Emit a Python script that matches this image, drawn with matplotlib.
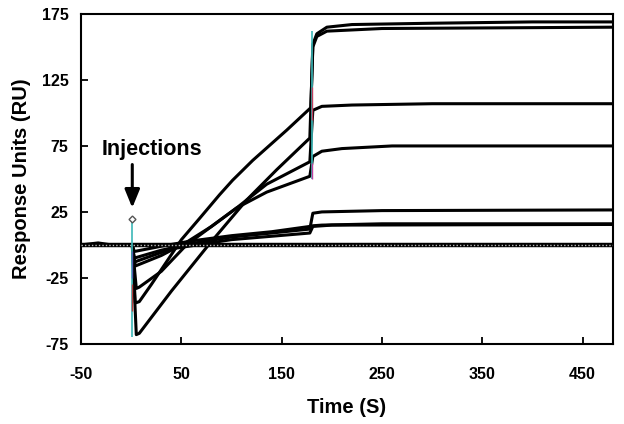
import matplotlib
matplotlib.use("Agg")
import matplotlib.pyplot as plt

plt.rcParams['font.family'] = ['Liberation Sans', 'DejaVu Sans']
plt.rcParams['axes.unicode_minus'] = False

# ---- data ----
t_a = [-50, -33, -20, 0, 1, 4, 8, 20, 35, 50, 68, 88, 101, 121, 155, 179, 181, 185, 195, 220, 300, 400, 480]
y_a = [0, 1.5, 0, 0, 0, -44, -43, -30, -13, 4, 20, 38, 49, 64, 87, 104, 152, 160, 165, 167, 168, 169, 169]

t_b = [-50, 0, 1, 5, 8, 40, 76, 96, 115, 145, 178, 181, 185, 195, 250, 480]
y_b = [0, 0, 0, -68, -67, -35, -1, 17, 34, 57, 81, 150, 158, 162, 164, 165]

t_c = [-50, 0, 1, 5, 8, 30, 55, 80, 105, 135, 178, 181, 190, 210, 260, 480]
y_c = [0, 0, 0, -33, -32, -20, 0, 14, 28, 40, 52, 67, 71, 73, 75, 75]

t_d = [-50, 0, 1, 4, 30, 55, 80, 105, 135, 178, 181, 190, 220, 300, 480]
y_d = [0, 0, 0, -16, -8, 2, 14, 28, 46, 63, 102, 105, 106, 107, 107]

t_e = [-50, 0, 1, 3, 30, 60, 100, 140, 178, 181, 190, 250, 480]
y_e = [0, 0, 0, -10, -4, 1, 6, 9, 12, 24, 25, 26, 26.5]

t_f = [-50, 0, 1, 3, 30, 60, 100, 140, 178, 181, 190, 250, 480]
y_f = [0, 0, 0, -5, -1, 3, 7, 10, 14, 14.5, 15, 16, 16]

t_g = [-50, 0, 1, 3, 40, 100, 178, 181, 200, 480]
y_g = [0, 0, 0, -13, -3, 4, 9, 14, 15, 15.5]

t_base = [-50, 480]
y_base = [0, 0]

# injection / end-of-injection connectors
inj_t = [1, 180]
inj_lo = [-70, 50]
inj_hi = [20, 162]

xticks = [-50, 50, 150, 250, 350, 450]
yticks = [-75, -25, 25, 75, 125, 175]

fig = plt.figure(figsize=(6.24, 4.24), dpi=100)
ax = fig.add_axes([0.130, 0.189, 0.852, 0.778])

curves = [(t_a, y_a), (t_b, y_b), (t_c, y_c), (t_d, y_d),
          (t_e, y_e), (t_f, y_f), (t_g, y_g)]
for t, y in curves:
    ax.plot(t, y, color='black', lw=2.2, solid_joinstyle='round', zorder=3)

ax.plot(t_base, y_base, color='black', lw=3.2, zorder=3)
ax.plot(t_base, y_base, color='#bbbbbb', lw=1.0, ls=(0, (1, 1.5)), zorder=4)

ax.vlines(inj_t, inj_lo, inj_hi, colors='#3cb8b8', lw=1.2, zorder=5)
ax.vlines([1, 1], [-50, -25], [-30, -5], colors=['#b04040', '#5060b0'], lw=1.0, zorder=6)
ax.vlines([180, 180], [50, 95], [62, 120], colors=['#c040a0', '#c04060'], lw=1.0, zorder=6)
ax.plot([1], [20], marker='D', ms=3.5, mfc='white', mec='#555555', zorder=7)

ax.annotate('', xy=(1, 26), xytext=(1, 63),
            arrowprops=dict(arrowstyle='-|>,head_width=0.45,head_length=1.1',
                            color='black', lw=2.2), zorder=8)
ax.text(21, 72, 'Injections', ha='center', va='center',
        fontsize=15.5, fontweight='bold')

ax.set_xlim(-50, 480)
ax.set_ylim(-75, 175)
ax.set_xticks(xticks)
ax.set_yticks(yticks)
ax.tick_params(direction='in', length=5, width=1.3, labelsize=11.5)
ax.tick_params(axis='x', pad=17)
ax.tick_params(axis='y', pad=9)
for lab in ax.get_xticklabels() + ax.get_yticklabels():
    lab.set_fontweight('bold')
for s in ax.spines.values():
    s.set_linewidth(1.5)

ax.set_xlabel('Time (S)', fontsize=14.5, fontweight='bold', labelpad=11)
ax.set_ylabel('Response Units (RU)', fontsize=14.5, fontweight='bold', labelpad=8)

fig.savefig('out.png', dpi=100)
